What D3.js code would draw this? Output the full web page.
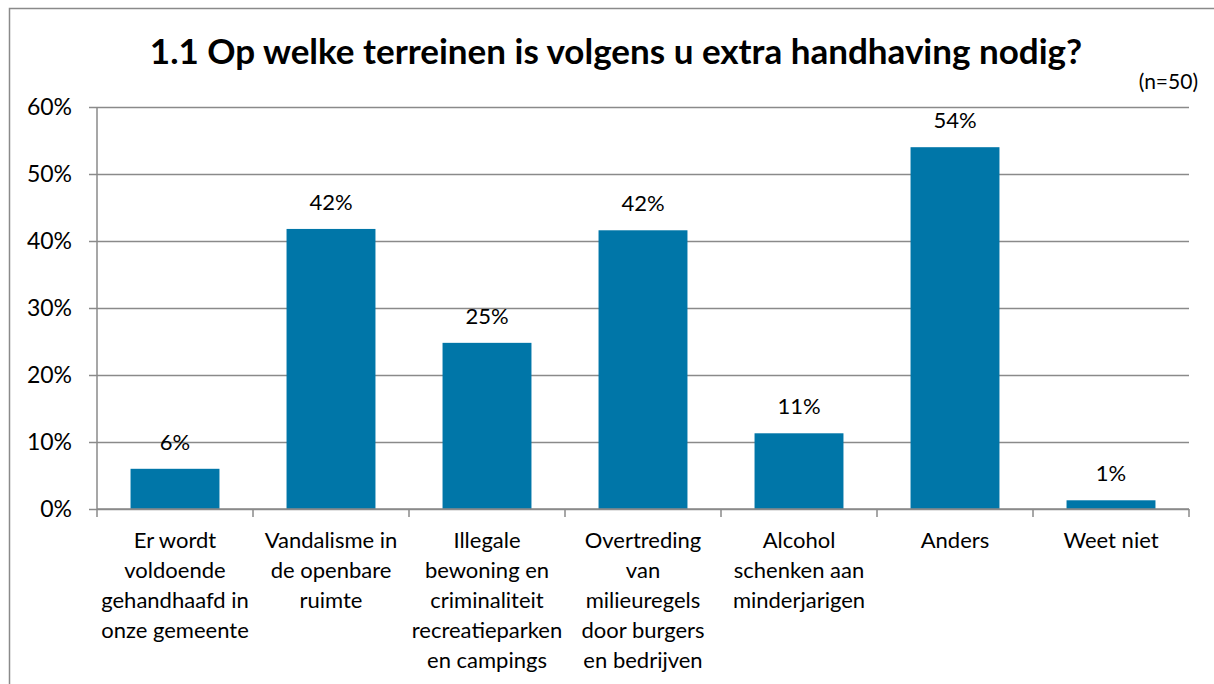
<!DOCTYPE html>
<html>
<head>
<meta charset="utf-8">
<script src="https://cdn.jsdelivr.net/npm/d3@7"></script>
<style>
    body { margin: 0; background: #fff; }
    text { font-family: Lato, sans-serif; fill: #000; }
</style>
</head>
<body>
<div class="container"></div>
<script>
const WIDTH = 1214;
const HEIGHT = 684;
const MARGIN = {top: 107, right: 25, bottom: 175, left: 97};

const INNER_WIDTH = WIDTH - MARGIN.left - MARGIN.right;
const INNER_HEIGHT = HEIGHT - MARGIN.top - MARGIN.bottom;

var categories = [
    'Er wordt\nvoldoende\ngehandhaafd in\nonze gemeente',
    'Vandalisme in\nde openbare\nruimte',
    'Illegale\nbewoning en\ncriminaliteit\nrecreatieparken\nen campings',
    'Overtreding\nvan\nmilieuregels\ndoor burgers\nen bedrijven',
    'Alcohol\nschenken aan\nminderjarigen',
    'Anders',
    'Weet niet'
];
var values = [0.06, 0.418, 0.248, 0.416, 0.113, 0.54, 0.013];
var valueLabels = ['6%', '42%', '25%', '42%', '11%', '54%', '1%'];
var yTicks = [0, 0.1, 0.2, 0.3, 0.4, 0.5, 0.6];

var _xScale = d3.scaleBand()
    .domain(categories)
    .range([0, INNER_WIDTH])
    .paddingInner(0.43)
    .paddingOuter(0.215);

var _yScale = d3.scaleLinear()
    .domain([0, 0.6])
    .range([INNER_HEIGHT, 0]);

var _svg = d3.select('.container').append('svg')
    .attr('width', WIDTH).attr('height', HEIGHT);

// outer chart frame (runs off the picture on the right and bottom)
_svg.append('rect')
    .attr('x', 9.5).attr('y', 8.5)
    .attr('width', WIDTH + 20).attr('height', HEIGHT + 20)
    .attr('fill', 'none').attr('stroke', '#8a8a8a').attr('stroke-width', 1.5);

_svg.append('text')
    .attr('x', 616).attr('y', 64)
    .attr('text-anchor', 'middle')
    .style('font-size', '35px').style('font-weight', 'bold')
    .text('1.1 Op welke terreinen is volgens u extra handhaving nodig?');

_svg.append('text')
    .attr('x', 1198).attr('y', 89)
    .attr('text-anchor', 'end')
    .style('font-size', '21px')
    .text('(n=50)');

var g = _svg.append('g')
    .attr('transform', 'translate(' + MARGIN.left + ',' + MARGIN.top + ')');

// y axis with gridlines
var yAxis = d3.axisLeft(_yScale)
    .tickValues(yTicks)
    .tickFormat(d3.format('.0%'))
    .tickSize(-INNER_WIDTH)
    .tickPadding(25);

var yG = g.append('g').call(yAxis);
yG.select('.domain').remove();
yG.selectAll('.tick line')
    .attr('x1', -8)
    .attr('stroke', '#8a8a8a').attr('stroke-width', 1.5);
yG.selectAll('.tick text')
    .style('font-size', '23px')
    .style('font-family', 'Lato, sans-serif');

g.append('line')
    .attr('x1', 0).attr('x2', 0)
    .attr('y1', 0).attr('y2', INNER_HEIGHT)
    .attr('stroke', '#8a8a8a').attr('stroke-width', 1.5);

// bars
g.selectAll('.bar')
    .data(values)
    .enter().append('rect')
    .attr('class', 'bar')
    .attr('x', function (d, i) { return _xScale(categories[i]); })
    .attr('y', function (d) { return _yScale(d); })
    .attr('width', _xScale.bandwidth())
    .attr('height', function (d) { return INNER_HEIGHT - _yScale(d); })
    .attr('fill', '#0076a8');

g.selectAll('.value-label')
    .data(values)
    .enter().append('text')
    .attr('class', 'value-label')
    .attr('x', function (d, i) { return _xScale(categories[i]) + _xScale.bandwidth() / 2; })
    .attr('y', function (d) { return _yScale(d) - 19; })
    .attr('text-anchor', 'middle')
    .style('font-size', '22px')
    .text(function (d, i) { return valueLabels[i]; });

// x axis line with category boundary ticks
var boundaries = categories.map(function (c) { return _xScale(c) - _xScale.step() * _xScale.paddingOuter(); });
boundaries.push(INNER_WIDTH);

g.append('line')
    .attr('x1', 0).attr('x2', INNER_WIDTH)
    .attr('y1', INNER_HEIGHT).attr('y2', INNER_HEIGHT)
    .attr('stroke', '#8a8a8a').attr('stroke-width', 1.5);

g.selectAll('.xtick')
    .data(boundaries)
    .enter().append('line')
    .attr('x1', function (d) { return d; }).attr('x2', function (d) { return d; })
    .attr('y1', INNER_HEIGHT).attr('y2', INNER_HEIGHT + 8)
    .attr('stroke', '#8a8a8a').attr('stroke-width', 1.5);

var catText = g.selectAll('.cat-label')
    .data(categories)
    .enter().append('text')
    .attr('class', 'cat-label')
    .attr('text-anchor', 'middle')
    .style('font-size', '22px')
    .attr('transform', function (d) {
        return 'translate(' + (_xScale(d) + _xScale.bandwidth() / 2) + ',' + (INNER_HEIGHT + 39) + ')';
    });

catText.selectAll('tspan')
    .data(function (d) { return d.split('\n'); })
    .enter().append('tspan')
    .attr('x', 0)
    .attr('y', function (d, i) { return i * 30; })
    .text(function (d) { return d; });
</script>
</body>
</html>
